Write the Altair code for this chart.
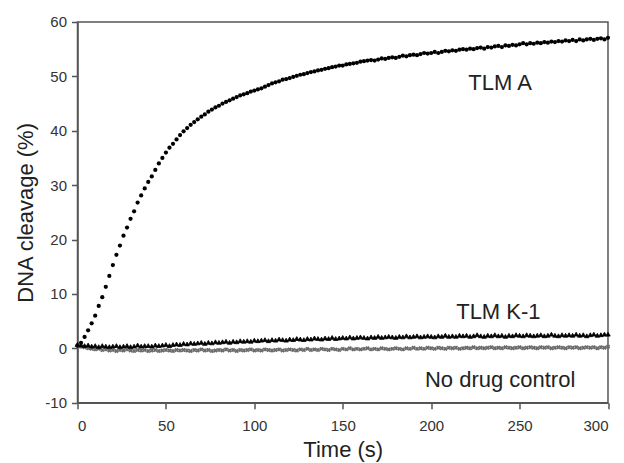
import altair as alt
import pandas as pd

# ---- data ----
time_s = list(range(0, 301, 2))

tlm_a = [
    0.5, 1.0, 2.1, 3.3, 4.6, 6.0, 7.8, 9.4, 11.3, 13.3,
    15.3, 17.2, 18.9, 20.7, 22.2, 23.8, 25.2, 26.8, 28.1, 29.4,
    30.6, 31.6, 32.8, 34.0, 35.0, 36.0, 36.9, 37.6, 38.4, 39.2,
    39.9, 40.5, 41.1, 41.6, 42.1, 42.6, 43.0, 43.5, 43.9, 44.3,
    44.6, 45.0, 45.3, 45.6, 45.9, 46.2, 46.5, 46.7, 46.9, 47.2,
    47.4, 47.6, 47.8, 48.1, 48.4, 48.7, 48.9, 49.1, 49.4, 49.5,
    49.7, 49.9, 50.1, 50.3, 50.4, 50.6, 50.8, 50.9, 51.1, 51.2,
    51.4, 51.5, 51.7, 51.8, 52.0, 52.0, 52.2, 52.3, 52.4, 52.5,
    52.7, 52.8, 52.9, 53.0, 52.9, 53.1, 53.3, 53.2, 53.4, 53.5,
    53.4, 53.6, 53.8, 53.7, 53.9, 54.0, 53.9, 54.1, 54.3, 54.2,
    54.3, 54.5, 54.3, 54.5, 54.7, 54.6, 54.8, 54.7, 54.9, 55.0,
    54.9, 55.1, 55.0, 55.2, 55.3, 55.1, 55.4, 55.3, 55.5, 55.6,
    55.4, 55.7, 55.6, 55.8, 55.7, 55.9, 56.1, 55.9, 56.1, 56.0,
    56.2, 56.1, 56.3, 56.2, 56.4, 56.3, 56.5, 56.4, 56.6, 56.5,
    56.7, 56.5, 56.8, 56.6, 56.8, 56.9, 56.7, 56.9, 57.0, 56.8,
    57.1,
]

tlm_k1 = [
    0.7, 0.6, 0.5, 0.6, 0.4, 0.5, 0.3, 0.5, 0.4, 0.3,
    0.4, 0.5, 0.3, 0.4, 0.5, 0.3, 0.4, 0.6, 0.4, 0.5,
    0.5, 0.4, 0.6, 0.5, 0.6, 0.7, 0.5, 0.7, 0.8, 0.7,
    0.9, 0.8, 1.0, 0.9, 1.0, 1.1, 0.9, 1.1, 1.0, 1.2,
    1.1, 1.2, 1.3, 1.1, 1.3, 1.2, 1.4, 1.3, 1.4, 1.3,
    1.5, 1.4, 1.5, 1.6, 1.4, 1.6, 1.5, 1.7, 1.6, 1.5,
    1.7, 1.6, 1.8, 1.7, 1.6, 1.8, 1.7, 1.9, 1.8, 1.7,
    1.9, 1.8, 2.0, 1.8, 1.9, 2.0, 1.9, 2.1, 1.9, 2.0,
    2.1, 2.0, 1.9, 2.1, 2.0, 2.2, 2.0, 2.1, 2.2, 2.1,
    2.0, 2.2, 2.1, 2.3, 2.1, 2.2, 2.3, 2.1, 2.2, 2.3,
    2.2, 2.1, 2.3, 2.2, 2.4, 2.2, 2.3, 2.2, 2.4, 2.3,
    2.4, 2.2, 2.3, 2.5, 2.3, 2.2, 2.4, 2.3, 2.5, 2.3,
    2.4, 2.2, 2.4, 2.3, 2.5, 2.4, 2.3, 2.5, 2.4, 2.3,
    2.4, 2.5, 2.3, 2.4, 2.6, 2.4, 2.3, 2.5, 2.4, 2.5,
    2.4, 2.6, 2.4, 2.5, 2.3, 2.5, 2.6, 2.4, 2.5, 2.6,
    2.6,
]

no_drug = [
    0.5, 0.3, 0.2, 0.0, -0.1, -0.2, -0.1, -0.3, -0.2, -0.4,
    -0.3, -0.5, -0.3, -0.4, -0.2, -0.4, -0.5, -0.3, -0.4, -0.3,
    -0.5, -0.4, -0.3, -0.5, -0.4, -0.3, -0.4, -0.5, -0.3, -0.4,
    -0.3, -0.4, -0.5, -0.3, -0.4, -0.2, -0.4, -0.3, -0.5, -0.4,
    -0.3, -0.4, -0.2, -0.4, -0.3, -0.5, -0.3, -0.4, -0.3, -0.2,
    -0.4, -0.3, -0.4, -0.2, -0.3, -0.4, -0.3, -0.2, -0.4, -0.3,
    -0.2, -0.3, -0.4, -0.2, -0.3, -0.1, -0.3, -0.2, -0.3, -0.1,
    -0.2, -0.3, -0.1, -0.2, -0.3, -0.1, -0.2, 0.0, -0.2, -0.1,
    -0.2, -0.1, 0.0, -0.2, -0.1, -0.2, 0.0, -0.1, -0.2, -0.1,
    0.0, -0.1, -0.2, 0.0, -0.1, 0.1, -0.1, 0.0, -0.1, 0.1,
    0.0, -0.1, 0.1, 0.0, -0.1, 0.1, 0.0, 0.1, -0.1, 0.0,
    0.1, 0.0, 0.2, 0.0, 0.1, 0.0, 0.1, 0.2, 0.0, 0.1,
    0.0, 0.2, 0.1, 0.0, 0.1, 0.2, 0.0, 0.1, 0.2, 0.1,
    0.0, 0.2, 0.1, 0.2, 0.0, 0.1, 0.2, 0.1, 0.0, 0.2,
    0.1, 0.2, 0.0, 0.1, 0.2, 0.1, 0.2, 0.0, 0.2, 0.1,
    0.3,
]

label_text = ["TLM A", "TLM K-1", "No drug control"]
label_t = [239, 238, 239]
label_v = [48.8, 6.7, -5.8]

FONT = "Liberation Sans"

df = pd.DataFrame({"t": time_s, "a": tlm_a, "k1": tlm_k1, "ctrl": no_drug})
labels = pd.DataFrame({"text": label_text, "t": label_t, "v": label_v})

xs = alt.Scale(domain=[0, 300], nice=False)
ys = alt.Scale(domain=[-10, 60], nice=False)
xax = alt.Axis(values=[0, 50, 100, 150, 200, 250, 300], title="Time (s)")
yax = alt.Axis(values=[-10, 0, 10, 20, 30, 40, 50, 60], title="DNA cleavage (%)",
               labelExpr="'' + datum.value")

base = alt.Chart(df)

ctrl = base.mark_point(shape="cross", angle=45, filled=True, color="#6a6a6a", size=20, opacity=1).encode(
    x=alt.X("t:Q", scale=xs, axis=xax),
    y=alt.Y("ctrl:Q", scale=ys, axis=yax),
)
k1 = base.mark_point(shape="triangle-up", filled=True, color="#000000", size=20, opacity=1,
                     stroke="#000000", strokeWidth=0.8).encode(
    x=alt.X("t:Q", scale=xs),
    y=alt.Y("k1:Q", scale=ys),
)
a = base.mark_circle(color="#000000", size=18, opacity=1).encode(
    x=alt.X("t:Q", scale=xs),
    y=alt.Y("a:Q", scale=ys),
)
txt = alt.Chart(labels).mark_text(font=FONT, fontSize=22, color="#222222", align="center", baseline="middle").encode(
    x=alt.X("t:Q", scale=xs),
    y=alt.Y("v:Q", scale=ys),
    text="text:N",
)

chart = (
    alt.layer(ctrl, k1, a, txt)
    .properties(
        width=530.5,
        height=380.7,
        autosize=alt.AutoSizeParams(type="none"),
        padding={"left": 69.5, "top": 14, "right": 8, "bottom": 60},
    )
    .configure_view(stroke="#555555", strokeWidth=1.5)
    .configure_axis(
        grid=False,
        domainColor="#555555",
        domainWidth=1.5,
        tickColor="#555555",
        tickWidth=1.5,
        tickSize=6,
        labelFont=FONT,
        labelFontSize=15,
        labelColor="#333333",
        titleFont=FONT,
        titleFontSize=22,
        titleFontWeight="normal",
        titleColor="#222222",
    )
    .configure_axisX(labelPadding=10, titlePadding=6)
    .configure_axisY(labelPadding=5, titlePadding=7)
)

chart.save("out.html", embed_options={"renderer": "svg", "actions": False})
